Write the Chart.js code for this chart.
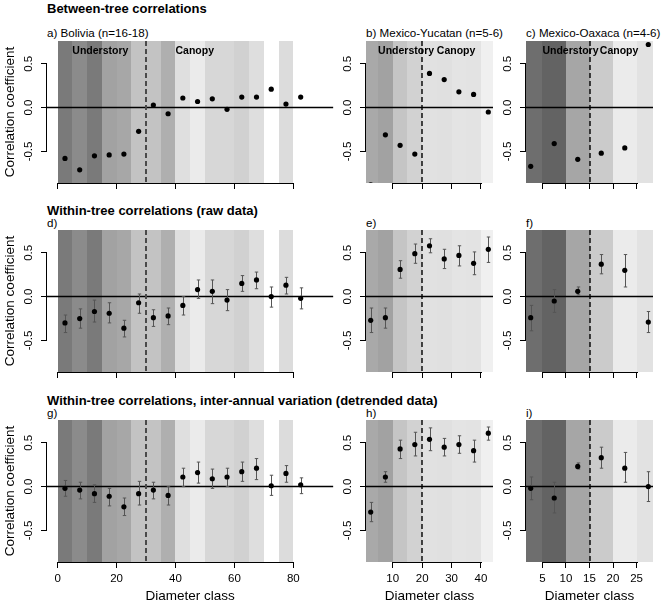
<!DOCTYPE html>
<html><head><meta charset="utf-8">
<script src="https://cdn.jsdelivr.net/npm/chart.js@4/dist/chart.umd.min.js"></script>
<style>
html,body{margin:0;padding:0;background:#fff;}
#wrap{position:relative;width:661px;height:607px;overflow:hidden;font-family:"Liberation Sans",Arial,Helvetica,sans-serif;color:#000;background:#fff;}
.txt{position:absolute;white-space:nowrap;line-height:1;}
canvas{position:absolute;}
</style></head>
<body><div id="wrap"></div>
<script>
// ================= DATA =================
const diameterClassBolivia = [2.5,7.5,12.5,17.5,22.5,27.5,32.5,37.5,42.5,47.5,52.5,57.5,62.5,67.5,72.5,77.5,82.5];
const diameterClassYucatan = [2.5,7.5,12.5,17.5,22.5,27.5,32.5,37.5,42.5];
const diameterClassOaxaca  = [2.5,7.5,12.5,17.5,22.5,27.5];

// a-c) between-tree correlations
const betweenBolivia = [-0.58,-0.71,-0.55,-0.54,-0.53,-0.27,0.03,-0.07,0.11,0.07,0.10,-0.02,0.12,0.12,0.21,0.04,0.12];
const betweenYucatan = [-0.88,-0.31,-0.43,-0.53,0.39,0.32,0.18,0.15,-0.05];
const betweenOaxaca  = [-0.67,-0.41,-0.59,-0.52,-0.46,0.72];

// d-f) within-tree correlations (raw data), with interval limits
const rawBolivia     = [-0.30,-0.25,-0.17,-0.19,-0.36,-0.07,-0.24,-0.22,-0.10,0.08,0.06,-0.04,0.15,0.19,0.00,0.13,-0.02];
const rawBoliviaLow  = [-0.41,-0.36,-0.29,-0.30,-0.46,-0.19,-0.34,-0.32,-0.21,-0.02,-0.08,-0.16,0.06,0.09,-0.12,0.03,-0.14];
const rawBoliviaHigh = [-0.21,-0.14,-0.04,-0.07,-0.27,0.03,-0.15,-0.13,0.00,0.19,0.19,0.08,0.24,0.28,0.11,0.22,0.10];
const rawYucatan     = [-0.27,-0.24,0.31,0.49,0.58,0.43,0.47,0.38,0.54];
const rawYucatanLow  = [-0.41,-0.36,0.21,0.38,0.50,0.32,0.35,0.25,0.39];
const rawYucatanHigh = [-0.13,-0.13,0.41,0.60,0.66,0.54,0.58,0.51,0.68];
const rawOaxaca      = [-0.24,-0.05,0.06,0.37,0.30,-0.29];
const rawOaxacaLow   = [-0.39,-0.18,0.02,0.26,0.11,-0.41];
const rawOaxacaHigh  = [-0.10,0.08,0.11,0.48,0.48,-0.17];

// g-i) within-tree correlations, inter-annual variation (detrended data)
const detBolivia     = [-0.02,-0.04,-0.08,-0.11,-0.23,-0.08,-0.04,-0.10,0.11,0.16,0.09,0.11,0.17,0.21,0.01,0.15,0.02];
const detBoliviaLow  = [-0.11,-0.14,-0.18,-0.22,-0.33,-0.21,-0.14,-0.21,0.00,0.04,-0.02,0.00,0.06,0.08,-0.10,0.05,-0.08];
const detBoliviaHigh = [0.07,0.05,0.02,-0.02,-0.13,0.06,0.05,0.00,0.21,0.28,0.20,0.21,0.28,0.32,0.13,0.24,0.10];
const detYucatan     = [-0.29,0.11,0.43,0.48,0.54,0.45,0.48,0.41,0.61];
const detYucatanLow  = [-0.40,0.05,0.32,0.35,0.41,0.35,0.38,0.28,0.53];
const detYucatanHigh = [-0.18,0.17,0.53,0.62,0.67,0.55,0.58,0.53,0.68];
const detOaxaca      = [-0.02,-0.13,0.23,0.33,0.21,0.00];
const detOaxacaLow   = [-0.15,-0.30,0.20,0.21,0.05,-0.17];
const detOaxacaHigh  = [0.11,0.05,0.27,0.45,0.39,0.17];

// background diameter-class bands (start of each 5-cm class) and their grey shade
const bandStartBolivia = [0,5,10,15,20,25,30,35,40,45,50,55,60,65,70,75];
const bandStartYucatan = [0,5,10,15,20,25,30,35,40];
const bandStartOaxaca  = [0,5,10,15,20,25];
const bandShadeBolivia = ['#7a7a7a','#8b8b8b','#7a7a7a','#a2a2a2','#a7a7a7','#c3c3c3','#c3c3c3','#afafaf','#dfdfdf','#ebebeb','#d7d7d7','#d7d7d7','#d1d1d1','#dedede','#ffffff','#dcdcdc'];
const bandShadeYucatan = ['#a9a9a9','#a2a2a2','#c5c5c5','#d2d2d2','#e1e1e1','#e0e0e0','#e4e4e4','#e3e3e3','#f0f0f0'];
const bandShadeOaxaca  = ['#6e6e6e','#636363','#a6a6a6','#cbcbcb','#ebebeb','#e2e2e2'];

// understory / canopy threshold (diameter class)
const canopyThresholdBolivia = 30;
const canopyThresholdYucatan = 20;
const canopyThresholdOaxaca  = 15;
const stratumLabels = ['Understory','Canopy'];
const stratumAtBolivia = [5, 40];
const stratumAtYucatan = [5, 25];
const stratumAtOaxaca  = [5, 17.2];

// axis ticks
const xTicksBolivia = [0,20,40,60,80];
const xTicksYucatan = [10,20,30,40];
const xTicksOaxaca  = [5,10,15,20,25];
const yTicks = [-0.5,0,0.5];

const headings = ['Between-tree correlations','Within-tree correlations (raw data)','Within-tree correlations, inter-annual variation (detrended data)'];
const panelTitles = [
  ['a) Bolivia (n=16-18)','b) Mexico-Yucatan (n=5-6)','c) Mexico-Oaxaca (n=4-6)'],
  ['d)','e)','f)'],
  ['g)','h)','i)']
];
const yAxisTitle = 'Correlation coefficient';
const xAxisTitle = 'Diameter class';

// ================= LAYOUT =================
const FONT = '"Liberation Sans", Arial, Helvetica, sans-serif';
Chart.defaults.font.family = FONT;
Chart.defaults.color = '#000';

const Y_MIN = -0.86, Y_MAX = 0.76;
const PAD_T = 4, PLOT_H = 142;
const COLS = [
  {canvasLeft:0,   padL:47, plotW:287, padR:2, xMin:-3.6, xMax:93.6, dash:'#4a4a4a', dashW:2},
  {canvasLeft:336, padL:30, plotW:127, padR:3, xMin:0.9,  xMax:44.1, dash:'#000', dashW:1.4},
  {canvasLeft:496, padL:30, plotW:127, padR:8, xMin:1.5,  xMax:28.5, dash:'#000', dashW:1.4}
];
const ROWS = [
  {plotTop:41,  padB:12, headCy:8,   titleCy:33},
  {plotTop:230, padB:12, headCy:210, titleCy:223},
  {plotTop:420, padB:45, headCy:400, titleCy:413}
];

const siteCols = [
  {x:diameterClassBolivia, bands:bandStartBolivia, shades:bandShadeBolivia, thr:canopyThresholdBolivia, strat:stratumAtBolivia, xt:xTicksBolivia,
   rows:[{y:betweenBolivia},{y:rawBolivia,lo:rawBoliviaLow,hi:rawBoliviaHigh},{y:detBolivia,lo:detBoliviaLow,hi:detBoliviaHigh}]},
  {x:diameterClassYucatan, bands:bandStartYucatan, shades:bandShadeYucatan, thr:canopyThresholdYucatan, strat:stratumAtYucatan, xt:xTicksYucatan,
   rows:[{y:betweenYucatan},{y:rawYucatan,lo:rawYucatanLow,hi:rawYucatanHigh},{y:detYucatan,lo:detYucatanLow,hi:detYucatanHigh}]},
  {x:diameterClassOaxaca, bands:bandStartOaxaca, shades:bandShadeOaxaca, thr:canopyThresholdOaxaca, strat:stratumAtOaxaca, xt:xTicksOaxaca,
   rows:[{y:betweenOaxaca},{y:rawOaxaca,lo:rawOaxacaLow,hi:rawOaxacaHigh},{y:detOaxaca,lo:detOaxacaLow,hi:detOaxacaHigh}]}
];

const wrap = document.getElementById('wrap');
function addText(text, left, cy, size, bold) {
  const d = document.createElement('div');
  d.className = 'txt';
  d.textContent = text;
  d.style.left = left + 'px';
  d.style.top = (cy - size/2) + 'px';
  d.style.fontSize = size + 'px';
  d.style.fontWeight = bold ? 'bold' : 'normal';
  wrap.appendChild(d);
}

const decor = {
  id: 'decor',
  beforeDatasetsDraw(chart, args, o) {
    const {ctx, chartArea: a, scales: {x, y}} = chart;
    const s = o.site, col = o.col;
    ctx.save();
    ctx.beginPath(); ctx.rect(a.left, a.top, a.right - a.left, a.bottom - a.top); ctx.clip();
    s.bands.forEach((b, i) => {
      const x0 = Math.round(x.getPixelForValue(b)), x1 = Math.round(x.getPixelForValue(b + 5));
      ctx.fillStyle = s.shades[i];
      ctx.fillRect(x0, a.top, x1 - x0, a.bottom - a.top);
    });
    // zero line
    const y0 = y.getPixelForValue(0);
    ctx.strokeStyle = '#000'; ctx.lineWidth = 1.5;
    ctx.beginPath(); ctx.moveTo(a.left, y0); ctx.lineTo(a.right, y0); ctx.stroke();
    // understory/canopy threshold
    const xt = Math.round(x.getPixelForValue(s.thr));
    ctx.strokeStyle = col.dash; ctx.lineWidth = col.dashW; ctx.setLineDash([5, 3]);
    ctx.beginPath(); ctx.moveTo(xt, a.top); ctx.lineTo(xt, a.bottom); ctx.stroke();
    ctx.setLineDash([]);
    ctx.restore();
    // error bars
    const r = o.data;
    if (r.lo) {
      ctx.save();
      ctx.strokeStyle = '#555'; ctx.lineWidth = 1;
      s.x.forEach((xv, i) => {
        const px = Math.round(x.getPixelForValue(xv)) + 0.5;
        const pl = y.getPixelForValue(r.lo[i]), ph = y.getPixelForValue(r.hi[i]);
        ctx.beginPath();
        ctx.moveTo(px, pl); ctx.lineTo(px, ph);
        ctx.moveTo(px - 1.7, ph); ctx.lineTo(px + 1.7, ph);
        ctx.moveTo(px - 1.7, pl); ctx.lineTo(px + 1.7, pl);
        ctx.stroke();
      });
      ctx.restore();
    }
  },
  afterDraw(chart, args, o) {
    const {ctx, chartArea: a, scales: {x, y}} = chart;
    const s = o.site;
    ctx.save();
    ctx.strokeStyle = '#000'; ctx.lineWidth = 1;
    // partial axis lines (R style)
    const lx = Math.round(a.left) - 0.5;
    ctx.beginPath();
    ctx.moveTo(lx, Math.round(y.getPixelForValue(yTicks[yTicks.length-1])));
    ctx.lineTo(lx, Math.round(y.getPixelForValue(yTicks[0])) + 1);
    ctx.stroke();
    const by = Math.round(a.bottom) + 0.5;
    ctx.beginPath();
    ctx.moveTo(Math.round(x.getPixelForValue(s.xt[0])), by);
    ctx.lineTo(Math.round(x.getPixelForValue(s.xt[s.xt.length-1])) + 1, by);
    ctx.stroke();
    if (o.row === 0) {
      ctx.fillStyle = '#000';
      ctx.font = 'bold 10.5px ' + FONT;
      ctx.textBaseline = 'middle'; ctx.textAlign = 'left';
      stratumLabels.forEach((t, i) => ctx.fillText(t, x.getPixelForValue(s.strat[i]), a.top + 10));
    }
    ctx.restore();
  }
};

function zeroPad(sc) { sc.paddingTop = 0; sc.paddingBottom = 0; sc.paddingLeft = 0; sc.paddingRight = 0; }

ROWS.forEach((R, ri) => {
  addText(headings[ri], 47, R.headCy, 13, true);
  COLS.forEach((C, ci) => {
    const site = siteCols[ci];
    const d = site.rows[ri];
    addText(panelTitles[ri][ci], C.canvasLeft + C.padL, R.titleCy, 11.6, false);
    const w = C.padL + C.plotW + C.padR;
    const h = PAD_T + PLOT_H + R.padB;
    const cv = document.createElement('canvas');
    cv.width = w; cv.height = h;
    cv.style.left = C.canvasLeft + 'px';
    cv.style.top = (R.plotTop - PAD_T) + 'px';
    cv.style.width = w + 'px'; cv.style.height = h + 'px';
    wrap.appendChild(cv);
    new Chart(cv, {
      type: 'scatter',
      data: {datasets: [{
        data: site.x.map((v, i) => ({x: v, y: d.y[i]})),
        pointRadius: 2.6, pointHoverRadius: 2.6, pointBorderWidth: 0,
        backgroundColor: '#000', borderColor: '#000', clip: 0
      }]},
      options: {
        responsive: false, animation: false, devicePixelRatio: 1, events: [],
        layout: {padding: {top: PAD_T, right: C.padR, left: 0, bottom: 0}},
        plugins: {legend: {display: false}, tooltip: {enabled: false},
                  decor: {site: site, data: d, row: ri, col: C}},
        scales: {
          x: {
            type: 'linear', position: 'bottom', min: C.xMin, max: C.xMax,
            afterBuildTicks: sc => { sc.ticks = site.xt.map(v => ({value: v})); },
            afterFit: sc => { sc.height = R.padB; zeroPad(sc); },
            border: {display: false},
            grid: {display: true, drawOnChartArea: false, drawTicks: true, tickLength: 6, tickColor: '#000', tickWidth: 1},
            ticks: {display: ri === 2, autoSkip: false, maxRotation: 0, minRotation: 0, padding: 4,
                    color: '#000', font: {size: 11.5}, callback: v => String(v)},
            title: {display: ri === 2, text: xAxisTitle, color: '#000', font: {size: 13.5}, padding: {top: 0, bottom: 3}}
          },
          y: {
            type: 'linear', position: 'left', min: Y_MIN, max: Y_MAX,
            afterBuildTicks: sc => { sc.ticks = yTicks.map(v => ({value: v})); },
            afterFit: sc => { sc.width = C.padL; zeroPad(sc); },
            border: {display: false},
            grid: {display: true, drawOnChartArea: false, drawTicks: true, tickLength: 6, tickColor: '#000', tickWidth: 1},
            ticks: {display: true, autoSkip: false, minRotation: 90, maxRotation: 90, crossAlign: 'center', padding: 2,
                    color: '#000', font: {size: 11.5}, callback: v => Number(v).toFixed(1)},
            title: {display: ci === 0, text: yAxisTitle, color: '#000', font: {size: 13.5}, padding: {top: 2, bottom: 0}}
          }
        }
      },
      plugins: [decor]
    });
  });
});
</script>
</body></html>
